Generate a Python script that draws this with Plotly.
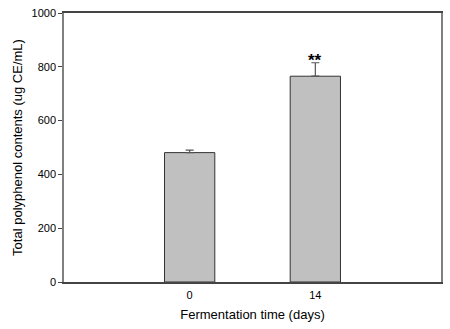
import plotly.graph_objects as go

categories = ["0", "14"]
values = [481, 765]
errors = [9, 50]
sig_labels = ["", "**"]
y_ticks = [0, 200, 400, 600, 800, 1000]

fig = go.Figure()
fig.add_trace(go.Bar(
    x=categories, y=values,
    width=0.4,
    marker=dict(color="#c0c0c0", line=dict(color="#333333", width=1)),
    error_y=dict(type="data", array=errors, arrayminus=[0, 0], symmetric=False,
                 color="#555555", thickness=1.2, width=4),
))
for i, (v, e, s) in enumerate(zip(values, errors, sig_labels)):
    if s:
        fig.add_annotation(x=i, y=v + e, xref="x", yref="y", text="<b>" + s + "</b>",
                           showarrow=False, yanchor="bottom", yshift=-9,
                           font=dict(family="Liberation Sans, Arial", size=17, color="#000"))

fig.update_layout(
    width=450, height=329,
    margin=dict(l=64, r=7, t=10, b=47),
    paper_bgcolor="white", plot_bgcolor="white",
    showlegend=False,
    font=dict(family="Liberation Sans, Arial", color="#000"),
    xaxis=dict(
        type="category", range=[-1, 2],
        showline=True, linecolor="#444444", linewidth=1.5, mirror=True,
        ticks="", ticklabelstandoff=2,
        tickfont=dict(size=11),
        title=dict(text="Fermentation time (days)", font=dict(size=13), standoff=10),
        showgrid=False, zeroline=False,
    ),
    yaxis=dict(
        range=[0, 1000], tickvals=y_ticks,
        showline=True, linecolor="#808080", linewidth=1.5, mirror=True,
        ticks="outside", ticklen=4, tickcolor="#444444",
        tickfont=dict(size=11),
        title=dict(text="Total polyphenol contents (ug CE/mL)", font=dict(size=13), standoff=6),
        showgrid=False, zeroline=False,
    ),
)
fig.write_html("out.html")
